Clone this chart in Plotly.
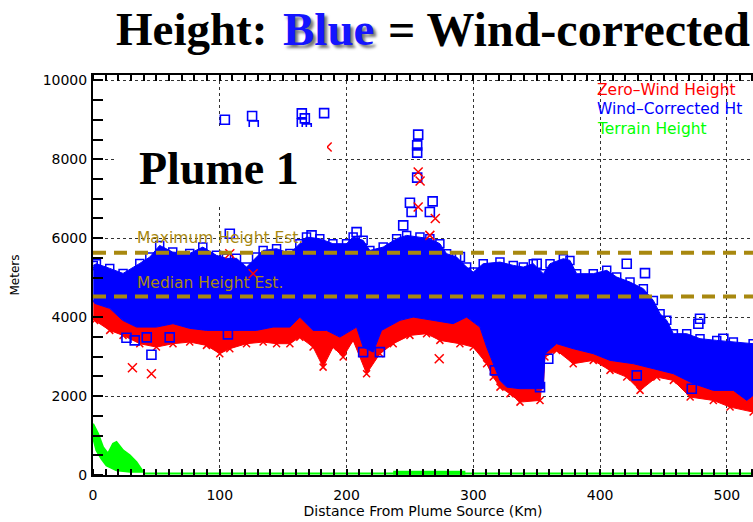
import plotly.graph_objects as go

# ---------------- data ----------------
# Wind-corrected height band: upper envelope
BLUE_TOP_KM = [0.2, 2.7, 13.2, 23.7, 36.9, 44.8, 52.6, 62.9, 76.3, 86.6, 97.4, 105.3, 113.2, 121.1,
               129.0, 134.2, 144.8, 155.3, 163.1, 168.4, 178.9, 189.2, 200.0, 205.2, 213.1, 218.4,
               228.9, 239.5, 247.4, 257.9, 265.7, 273.6, 278.9, 286.8, 294.7, 299.9, 307.8, 321.0,
               331.5, 339.4, 347.3, 355.2, 360.5, 371.0, 376.2, 381.5, 394.6, 405.2, 413.1, 423.6,
               434.1, 442.0, 447.3, 452.6, 457.8, 468.3, 478.8, 492.0, 505.1, 520.7]
BLUE_TOP_M = [5311, 5354, 5235, 5108, 5362, 5522, 5818, 5648, 5615, 5775, 5565, 5489, 5489, 5268,
              5522, 5691, 5734, 5615, 5861, 6028, 5988, 5861, 5861, 6028, 5945, 5691,
              5775, 5988, 6071, 6028, 5988, 5861, 5608, 5522, 5268, 5141, 5354, 5395,
              5311, 5268, 5354, 5101, 5354, 5481, 5438, 5101, 5101, 5185, 5015, 4888,
              4721, 4424, 4087, 3918, 3581, 3581, 3454, 3411, 3368, 3327]

# Wind-corrected height band: lower envelope
BLUE_LOW_KM = [0.2, 1.3, 13.2, 23.4, 34.3, 50.0, 63.1, 76.3, 89.5, 102.4, 115.8, 129.0, 142.1,
               155.3, 163.1, 173.6, 184.2, 194.7, 207.9, 213.1, 221.0, 227.6, 242.1, 252.6, 268.4,
               284.1, 294.7, 305.2, 310.5, 315.7, 321.0, 326.3, 336.8, 355.2, 356.5, 365.7, 378.8,
               394.6, 407.8, 426.2, 442.0, 457.8, 473.6, 489.3, 505.1, 515.7, 520.7]
BLUE_LOW_M = [4424, 4348, 4222, 3918, 3748, 3748, 3834, 3715, 3664, 3664, 3664, 3664, 3748,
              3748, 4001, 3664, 3664, 3494, 3748, 3241, 3114, 3664, 3918, 4001, 3918,
              3834, 4001, 3748, 3241, 2820, 2397, 2227, 2187, 2187, 3074, 3327, 3200,
              3074, 2904, 2820, 2694, 2567, 2314, 2144, 2144, 1890, 2017]

# Zero-wind height band: lower envelope
RED_LOW_KM = [0.2, 1.3, 13.2, 23.7, 36.9, 50.0, 63.1, 76.3, 89.5, 100.0, 107.9, 121.1, 134.2,
              144.8, 155.3, 163.1, 173.6, 181.5, 189.4, 197.3, 205.2, 215.8, 226.3, 236.8, 250.0,
              263.1, 273.6, 289.4, 299.9, 310.5, 315.7, 321.0, 328.9, 336.8, 352.6, 356.5, 365.7,
              378.8, 394.6, 407.8, 421.0, 431.5, 444.7, 457.8, 471.0, 489.3, 502.5, 520.7]
RED_LOW_M = [4001, 3918, 3664, 3537, 3327, 3241, 3327, 3368, 3284, 3074, 3200, 3327, 3368,
             3327, 3327, 3494, 3241, 2734, 3241, 2988, 3411, 2567, 3074, 3327, 3537,
             3581, 3411, 3327, 3241, 2820, 2481, 2227, 2060, 1847, 1890, 2988, 3157,
             2820, 2904, 2651, 2481, 2144, 2481, 2397, 1974, 1890, 1721, 1594]

# Isolated wind-corrected points (open squares)
BLUE_OUT_KM = [104.0, 125.5, 126.8, 164.7, 167.1, 164.7, 168.6, 182.3, 256.5, 255.7, 255.7, 255.7,
               250.0, 251.3, 267.9, 265.7, 244.7, 207.9, 107.9, 26.4, 32.9, 42.4, 46.1, 60.5,
               106.4, 213.1, 226.3, 172.4, 289.4, 350.0, 421.0, 435.4, 478.8, 477.5, 497.2,
               359.1, 352.6, 428.9, 472.3, 317.0, 336.0]
BLUE_OUT_M = [9003, 9095, 8859, 9163, 9036, 8910, 8783, 9170, 8623, 8352, 8167, 7534,
              6900, 6662, 6933, 6662, 6325, 6155, 6114, 3479, 3411, 3487, 3048, 3487,
              3563, 3114, 3114, 6071, 5522, 5354, 5354, 5116, 3960, 3834, 3454,
              2947, 2227, 2524, 2187, 2650, 2560]

# Isolated zero-wind points (crosses)
RED_OUT_KM = [31.1, 46.1, 273.1, 256.5, 256.5, 107.9, 126.3, 265.7, 184.7, 258.0, 270.0]
RED_OUT_M = [2719, 2567, 2947, 7676, 6789, 5608, 5101, 6071, 8309, 7450, 6500]

# Terrain height
TERRAIN_TOP_KM = [0.0, 4.0, 7.9, 11.8, 15.8, 18.5, 23.7, 29.0, 34.3, 38.2, 39.5]
TERRAIN_TOP_M = [1300, 1047, 707, 540, 793, 834, 623, 497, 327, 160, 100]
TERRAIN_LOW_KM = [0.0, 2.7, 6.6, 10.6, 18.5, 29.0, 39.5]
TERRAIN_LOW_M = [960, 623, 413, 243, 117, 80, 80]
TERRAIN_FLAT_KM = [39.5, 520.7]
TERRAIN_FLAT_M = [40, 40]
TERRAIN_RIDGE_KM = [236.8, 293.7]
TERRAIN_RIDGE_M = [60, 60]

MAX_HEIGHT_EST = 5630
MEDIAN_HEIGHT_EST = 4520

X_TICKS = [0, 100, 200, 300, 400, 500]
Y_TICKS = [0, 2000, 4000, 6000, 8000, 10000]
Y_TICK_LABELS = ["0", "2000", "4000", "6000", "8000", "10000"]

# ---------------- styling / layout ----------------
W, H = 753, 522
L, R, T, B = 93, 0, 75, 47
PW, PH = W - L - R, H - T - B
X_RANGE = [0, 520.6]
Y_RANGE = [0, 10135]

BLUE = "#0000ff"
RED = "#ff0000"
GREEN = "#00ff00"
GOLD = "#a8880f"
AXFONT = "DejaVu Sans"


def px_x(px):  # page pixel -> paper x
    return (px - L) / PW


def px_y(py):  # page pixel -> paper y
    return (H - B - py) / PH


def band(top_x, top_y, low_x, low_y):
    return list(top_x) + list(reversed(low_x)), list(top_y) + list(reversed(low_y))


fig = go.Figure()

# terrain
tx, ty = band(TERRAIN_TOP_KM, TERRAIN_TOP_M, TERRAIN_LOW_KM, TERRAIN_LOW_M)
fig.add_trace(go.Scatter(x=tx, y=ty, fill="toself", fillcolor=GREEN, mode="lines",
                         line=dict(color=GREEN, width=2), hoverinfo="skip"))
fig.add_trace(go.Scatter(x=TERRAIN_FLAT_KM, y=TERRAIN_FLAT_M, mode="lines",
                         line=dict(color=GREEN, width=2), hoverinfo="skip"))
fig.add_trace(go.Scatter(x=TERRAIN_RIDGE_KM, y=TERRAIN_RIDGE_M, mode="lines",
                         line=dict(color=GREEN, width=4), hoverinfo="skip"))

# zero-wind band (red)
rx, ry = band(BLUE_LOW_KM, BLUE_LOW_M, RED_LOW_KM, RED_LOW_M)
fig.add_trace(go.Scatter(x=rx, y=ry, fill="toself", fillcolor=RED, mode="lines",
                         line=dict(color=RED, width=1), hoverinfo="skip"))
fig.add_trace(go.Scatter(x=RED_LOW_KM, y=RED_LOW_M, mode="markers",
                         marker=dict(symbol="x-thin-open", size=7, color=RED,
                                     line=dict(color=RED, width=1.5)), hoverinfo="skip"))

# wind-corrected band (blue)
bx, by = band(BLUE_TOP_KM, BLUE_TOP_M, BLUE_LOW_KM, BLUE_LOW_M)
fig.add_trace(go.Scatter(x=bx, y=by, fill="toself", fillcolor=BLUE, mode="lines",
                         line=dict(color=BLUE, width=1), hoverinfo="skip"))
fig.add_trace(go.Scatter(x=BLUE_TOP_KM, y=BLUE_TOP_M, mode="markers",
                         marker=dict(symbol="square-open", size=8, color=BLUE,
                                     line=dict(color=BLUE, width=1.5)), hoverinfo="skip"))
fig.add_trace(go.Scatter(x=BLUE_OUT_KM, y=BLUE_OUT_M, mode="markers",
                         marker=dict(symbol="square-open", size=9, color=BLUE,
                                     line=dict(color=BLUE, width=1.6)), hoverinfo="skip"))
fig.add_trace(go.Scatter(x=RED_OUT_KM, y=RED_OUT_M, mode="markers",
                         marker=dict(symbol="x-thin-open", size=9, color=RED,
                                     line=dict(color=RED, width=1.5)), hoverinfo="skip"))

shapes = [
    dict(type="line", xref="paper", yref="y", x0=0, x1=1, y0=MAX_HEIGHT_EST, y1=MAX_HEIGHT_EST,
         line=dict(color=GOLD, width=4, dash="13px,8px"), layer="above"),
    dict(type="line", xref="paper", yref="y", x0=0, x1=1, y0=MEDIAN_HEIGHT_EST, y1=MEDIAN_HEIGHT_EST,
         line=dict(color=GOLD, width=4, dash="13px,8px"), layer="above"),
    dict(type="rect", xref="paper", yref="paper", x0=px_x(115), x1=px_x(327),
         y0=px_y(207), y1=px_y(127), fillcolor="white", line=dict(width=0), layer="above"),
]

serif = "Liberation Serif"
ann = []
# title pieces
ann.append(dict(text="<b>Height:</b>", x=px_x(114), y=px_y(29), xref="paper", yref="paper",
                xanchor="left", yanchor="middle", showarrow=False,
                font=dict(family=serif, size=47, color="black")))
ann.append(dict(text="<b>Blue</b>", x=px_x(281), y=px_y(29), xref="paper", yref="paper",
                xanchor="left", yanchor="middle", showarrow=False,
                font=dict(family=serif, size=47, color="#1414ff", shadow="3px 3px 3px #777")))
ann.append(dict(text="<b>= Wind-corrected</b>", x=px_x(386), y=px_y(29), xref="paper", yref="paper",
                xanchor="left", yanchor="middle", showarrow=False,
                font=dict(family=serif, size=48, color="black")))
# plume label
ann.append(dict(text="<b>Plume 1</b>", x=px_x(219), y=px_y(168), xref="paper", yref="paper",
                xanchor="center", yanchor="middle", showarrow=False,
                font=dict(family=serif, size=46, color="black")))
# estimate labels
ann.append(dict(text="Maximum Height Est.", x=px_x(135), y=px_y(238), xref="paper", yref="paper",
                xanchor="left", yanchor="middle", showarrow=False,
                font=dict(family=AXFONT, size=15.5, color=GOLD)))
ann.append(dict(text="Median Height Est.", x=px_x(135), y=px_y(283), xref="paper", yref="paper",
                xanchor="left", yanchor="middle", showarrow=False,
                font=dict(family=AXFONT, size=15.5, color=GOLD)))
# legend text
for txt, col, py in [("Zero\u2013Wind Height", RED, 90), ("Wind\u2013Corrected Ht", BLUE, 109),
                     ("Terrain Height", GREEN, 129)]:
    ann.append(dict(text=txt, x=px_x(595), y=px_y(py), xref="paper", yref="paper",
                    xanchor="left", yanchor="middle", showarrow=False,
                    font=dict(family=AXFONT, size=15.5, color=col)))

fig.update_layout(
    width=W, height=H,
    margin=dict(l=L, r=R, t=T, b=B, autoexpand=False),
    paper_bgcolor="white", plot_bgcolor="white",
    showlegend=False,
    shapes=shapes, annotations=ann,
    font=dict(family=AXFONT, size=14, color="black"),
)
fig.update_xaxes(
    range=X_RANGE, tickvals=X_TICKS, ticks="", showline=True, linecolor="black", linewidth=2,
    mirror="allticks", showgrid=True, gridcolor="#333", gridwidth=1, griddash="dot", zeroline=False,
    minor=dict(dtick=10, ticks="inside", ticklen=6, tickcolor="black", tickwidth=1.5, showgrid=False),
    tickfont=dict(family=AXFONT, size=14), ticklabelstandoff=6,
    title=dict(text="Distance From Plume Source (Km)", font=dict(family=AXFONT, size=14), standoff=4),
)
fig.update_yaxes(
    range=Y_RANGE, tickvals=Y_TICKS, ticktext=Y_TICK_LABELS, ticks="", showline=True,
    linecolor="black", linewidth=2,
    mirror=False, showgrid=True, gridcolor="#333", gridwidth=1, griddash="dot", zeroline=False,
    minor=dict(dtick=500, ticks="inside", ticklen=10, tickcolor="black", tickwidth=1.5, showgrid=False),
    tickfont=dict(family=AXFONT, size=14), ticklabelstandoff=1,
    title=dict(text="Meters", font=dict(family=AXFONT, size=12), standoff=20),
)

# remove the browser's default 8px page margin so the figure fills the window exactly
fig.write_html("out.html",
               config={"displayModeBar": False},
               post_script="document.body.style.margin='0';document.body.style.overflow='hidden';")
